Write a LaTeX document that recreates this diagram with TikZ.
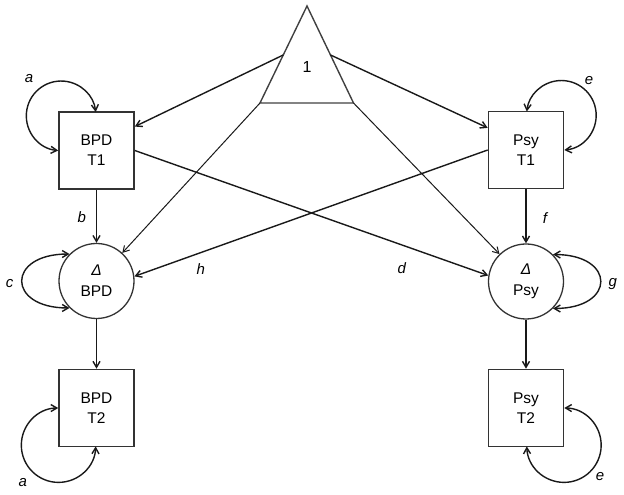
\documentclass[tikz,border=0pt]{standalone}
\usepackage{fontspec}
\setmainfont{Liberation Sans}
\usetikzlibrary{arrows.meta,calc}
\begin{document}
\begin{tikzpicture}[x=1pt,y=1pt,
  box/.style={draw=black!80, line width=1.6pt, fill=white, minimum width=75pt, minimum height=77pt, inner sep=0pt, align=center, font=\fontsize{15.5}{20}\selectfont},
  latent/.style={draw=black!80, line width=1.3pt, fill=white, circle, minimum size=75pt, inner sep=0pt, align=center, font=\fontsize{15.5}{21}\selectfont},
  arrowline/.style={draw=black!90, line width=1.4pt, -{Straight Barb[length=6pt,width=7pt]}},
  thinarrow/.style={arrowline, line width=1pt},
  sloop/.style={draw=black!90, line width=1.4pt, {Straight Barb[length=6pt,width=7pt]}-{Straight Barb[length=6pt,width=7pt]}},
  tri/.style={draw=black!75, line width=1.4pt, line join=miter},
  lab/.style={font=\fontsize{15}{15}\selectfont\itshape, inner sep=0pt},
]
\useasboundingbox (0,0) rectangle (624,495);

% triangle (constant)
\coordinate (apex) at (307,489);
\coordinate (bl) at (260,392);
\coordinate (br) at (353.5,392);
\draw[tri] (apex) -- (bl) -- (br) -- cycle;
\node[font=\fontsize{16}{16}\selectfont] (one) at (307,428) {1};
\coordinate (tl) at ($(apex)!0.505!(bl)$);
\coordinate (tr) at ($(apex)!0.505!(br)$);

% nodes
\node[box] (b1) at (96.5,344.5) {BPD\\T1};
\node[box] (p1) at (526,345) {Psy\\T1};
\node[latent] (d1) at (96.5,214) {\textit{Δ}\\BPD};
\node[latent] (d2) at (526,213.5) {\textit{Δ}\\Psy};
\node[box] (b2) at (96.5,87) {BPD\\T2};
\node[box] (p2) at (526,87) {Psy\\T2};

% paths
\draw[arrowline] (tl) -- (b1.32);
\draw[arrowline] (tr) -- (p1.150);
\draw[thinarrow] (bl) -- (d1);
\draw[thinarrow] (br) -- (d2);
\draw[arrowline] (b1.east) -- (d2.171);
\draw[arrowline] (p1.west) -- (d1.7);
\draw[arrowline] (b1) -- (d1);
\draw[arrowline] (d1) -- (b2);
\draw[arrowline] (p1) -- (d2);
\draw[arrowline] (d2) -- (p2);

% self loops
\draw[sloop] (b1.west) arc[start angle=-94.8, end angle=-353.7, radius=34.8];
\draw[sloop] (p1.east) arc[start angle=-85.2, end angle=173.7, radius=34.8];
\draw[sloop] (d1.135) to[out=180,in=180,looseness=3] (d1.225);
\draw[sloop] (d2.45) to[out=0,in=0,looseness=3] (d2.-45);
\draw[sloop] (b2.west) arc[start angle=90.5, end angle=358.1, radius=37.2];
\draw[sloop] (p2.east) arc[start angle=89.5, end angle=-178.1, radius=37.2];

% labels
\node[lab] (la1) at (29,416) {a};
\node[lab] (le1) at (589,414) {e};
\node[lab] (lb) at (81.7,278.3) {b};
\node[lab] (lf) at (545,277) {f};
\node[lab] (lc) at (9.5,211.7) {c};
\node[lab] (lg) at (612.7,211) {g};
\node[lab] (lh) at (200.7,225.7) {h};
\node[lab] (ld) at (401.7,226.5) {d};
\node[lab] (la2) at (22.7,12.5) {a};
\node[lab] (le2) at (600,18.3) {e};
\end{tikzpicture}
\end{document}
